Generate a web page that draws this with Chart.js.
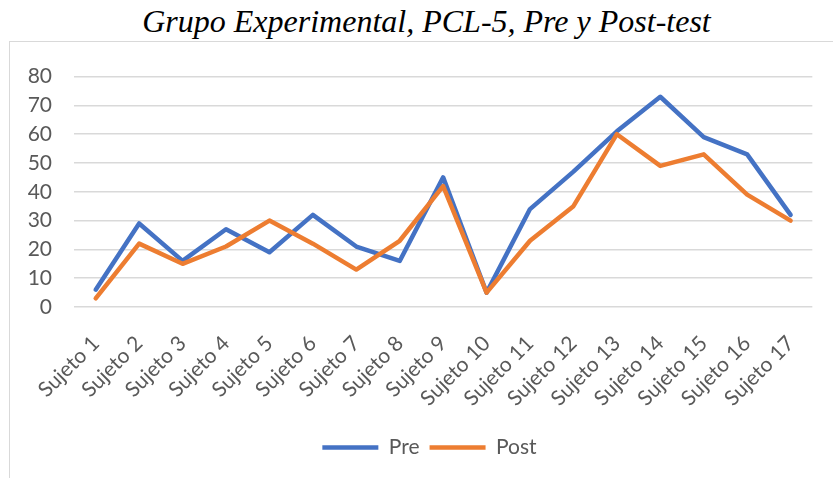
<!DOCTYPE html>
<html>
<head>
<meta charset="utf-8">
<script src="https://cdn.jsdelivr.net/npm/chart.js@4.4.1/dist/chart.umd.min.js"></script>
<style>
    html, body { margin: 0; padding: 0; background: #fff; }
    body { width: 833px; height: 478px; position: relative; overflow: hidden; }
    #title {
        position: absolute; left: 10px; top: 5px; width: 833px;
        text-align: center; font-family: 'Liberation Serif', 'Times New Roman', serif;
        font-style: italic; font-size: 32px; line-height: 32px; color: #000;
    }
    #box {
        position: absolute; left: 9px; top: 41px; width: 840px; height: 450px;
        border: 1px solid #d9d9d9;
    }
    #wrap { position: absolute; left: 10px; top: 42px; width: 823px; height: 436px; }
</style>
</head>
<body>
<div id="title">Grupo Experimental, PCL-5, Pre y Post-test</div>
<div id="box"></div>
<div id="wrap"><canvas id="chart"></canvas></div>
<script>
// Chart data
const subjects = ['Sujeto 1', 'Sujeto 2', 'Sujeto 3', 'Sujeto 4', 'Sujeto 5', 'Sujeto 6',
    'Sujeto 7', 'Sujeto 8', 'Sujeto 9', 'Sujeto 10', 'Sujeto 11', 'Sujeto 12',
    'Sujeto 13', 'Sujeto 14', 'Sujeto 15', 'Sujeto 16', 'Sujeto 17'];
const preScores = [6, 29, 16, 27, 19, 32, 21, 16, 45, 5, 34, 47, 61, 73, 59, 53, 32];
const postScores = [3, 22, 15, 21, 30, 22, 13, 23, 42, 5, 23, 35, 60, 49, 53, 39, 30];
const yMin = 0;
const yMax = 80;
const yStep = 10;

const tickFont = { family: 'Lato, "Open Sans", sans-serif', size: 21 };

// nudge the legend a bit to the right, the original is centred on the plot
const legendShift = {
    id: 'legendShift',
    afterLayout(chart) {
        if (chart.legend) {
            chart.legend.left += 18;
            chart.legend.right += 18;
        }
    }
};

document.addEventListener('DOMContentLoaded', function() {
    const ctx = document.getElementById('chart').getContext('2d');
    new Chart(ctx, {
        type: 'line',
        data: {
            labels: subjects,
            datasets: [
                {
                    label: 'Pre',
                    data: preScores,
                    borderColor: '#4472C4',
                    backgroundColor: '#4472C4',
                    borderWidth: 4.5,
                    borderCapStyle: 'round',
                    borderJoinStyle: 'round',
                    pointRadius: 0,
                    tension: 0,
                    order: 1
                },
                {
                    label: 'Post',
                    data: postScores,
                    borderColor: '#ED7D31',
                    backgroundColor: '#ED7D31',
                    borderWidth: 4.5,
                    borderCapStyle: 'round',
                    borderJoinStyle: 'round',
                    pointRadius: 0,
                    tension: 0,
                    order: 0
                }
            ]
        },
        options: {
            responsive: true,
            maintainAspectRatio: false,
            animation: false,
            layout: { padding: { top: 33, right: 20, bottom: 10, left: 0 } },
            plugins: {
                tooltip: { enabled: false },
                legend: {
                    position: 'bottom',
                    labels: {
                        usePointStyle: true,
                        pointStyle: 'line',
                        pointStyleWidth: 56,
                        boxHeight: 21,
                        padding: 10,
                        color: '#595959',
                        font: tickFont,
                        sort: (a, b) => a.datasetIndex - b.datasetIndex
                    }
                }
            },
            scales: {
                x: {
                    offset: true,
                    grid: { display: false, drawTicks: false },
                    border: { display: false },
                    ticks: {
                        color: '#595959',
                        font: tickFont,
                        autoSkip: false,
                        minRotation: 45,
                        maxRotation: 45,
                        padding: 24
                    },
                    afterFit: function(scale) { scale.height = 120; }
                },
                y: {
                    min: yMin,
                    max: yMax,
                    grid: { color: '#d9d9d9', lineWidth: 1.5, drawTicks: false },
                    border: { display: false },
                    ticks: {
                        stepSize: yStep,
                        color: '#595959',
                        font: tickFont,
                        padding: 22
                    },
                    afterFit: function(scale) { scale.width = 64; }
                }
            }
        },
        plugins: [legendShift]
    });
});
</script>
</body>
</html>
